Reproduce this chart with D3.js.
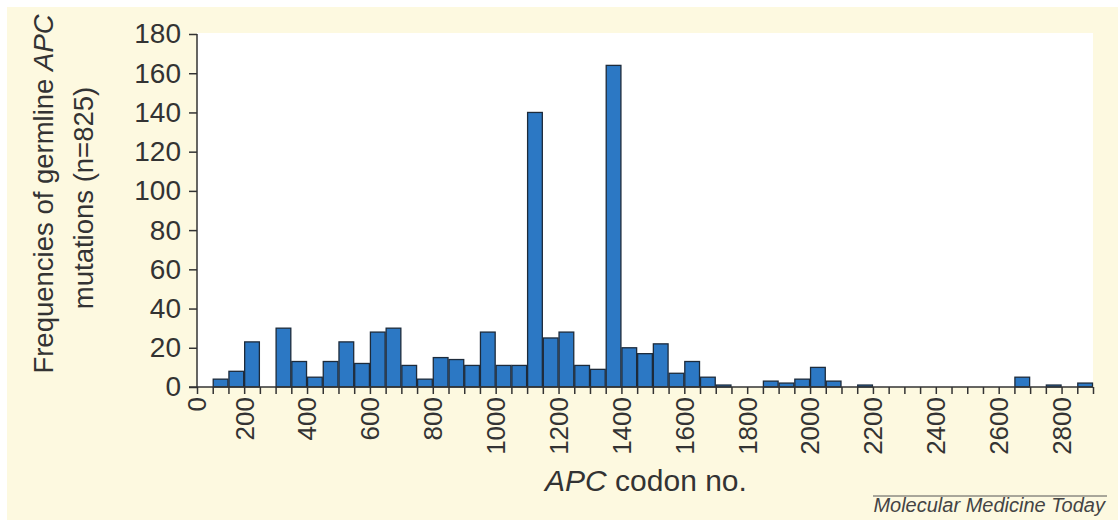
<!DOCTYPE html>
<html>
<head>
<meta charset="utf-8">
<script src="https://cdnjs.cloudflare.com/ajax/libs/d3/7.8.5/d3.min.js"></script>
<style>
  body { margin: 0; background: #ffffff; }
  svg { display: block; font-family: "Liberation Sans", Arial, Helvetica, sans-serif; }
</style>
</head>
<body>
<div id="chart"></div>
<script>
// germline APC mutations, counted in bins of 50 codons (bin start codon)
var binStart = [100, 150, 200, 300, 350, 400, 450, 500, 550, 600, 650, 700, 750, 800, 850,
                900, 950, 1000, 1050, 1100, 1150, 1200, 1250, 1300, 1350, 1400, 1450, 1500,
                1550, 1600, 1650, 1700, 1850, 1900, 1950, 2000, 2050, 2150, 2650, 2750, 2850];
var mutCount = [4, 8, 23, 30, 13, 5, 13, 23, 12, 28, 30, 11, 4, 15, 14,
                11, 28, 11, 11, 140, 25, 28, 11, 9, 164, 20, 17, 22,
                7, 13, 5, 1, 3, 2, 4, 10, 3, 1, 5, 1, 2];
var binWidth = 50;
var yTicks = [0, 20, 40, 60, 80, 100, 120, 140, 160, 180];
var xLabelTicks = [200, 400, 600, 800, 1000, 1200, 1400, 1600, 1800, 2000, 2200, 2400, 2600, 2800];
var xMinorTicks = d3.range(50, 2901, 50);

var width = 1118;
var height = 528;
var plotLeft = 197, plotRight = 1093, plotTop = 34, plotBottom = 387;

var svg = d3.select("#chart")
    .append("svg")
    .attr("width", width)
    .attr("height", height);

// cream panel
svg.append("rect")
    .attr("x", 7).attr("y", 7)
    .attr("width", width - 7).attr("height", 513)
    .attr("fill", "#fdf9e0");

// white plotting area
svg.append("rect")
    .attr("x", plotLeft).attr("y", plotTop - 1)
    .attr("width", plotRight - plotLeft).attr("height", plotBottom - plotTop + 1)
    .attr("fill", "#ffffff");

var x = d3.scaleLinear().domain([50, 2900]).range([plotLeft, plotRight]);
var y = d3.scaleLinear().domain([0, 180]).range([plotBottom, plotTop]);

var bars = binStart.map(function(d, i) {
    return {start: d, count: mutCount[i]};
});

svg.append("g")
    .attr("class", "bars")
    .selectAll("rect")
    .data(bars)
    .enter()
    .append("rect")
    .attr("x", function(d) { return x(d.start) + 0.5; })
    .attr("width", function(d) { return x(d.start + binWidth) - x(d.start) - 1; })
    .attr("y", function(d) { return y(d.count); })
    .attr("height", function(d) { return y(0) - y(d.count); })
    .attr("fill", "#2c78c4")
    .attr("stroke", "#1d2b3b")
    .attr("stroke-width", 1.3);

// y axis
var yAxis = svg.append("g")
    .attr("transform", "translate(" + plotLeft + ",0)")
    .call(d3.axisLeft(y).tickValues(yTicks).tickSize(8).tickPadding(8));
yAxis.select(".domain").attr("stroke", "#333").attr("stroke-width", 1.5)
    .attr("d", "M0," + plotTop + "V" + plotBottom);
yAxis.selectAll(".tick line").attr("stroke", "#333").attr("stroke-width", 1.5);
yAxis.selectAll(".tick text")
    .attr("fill", "#333")
    .style("font-size", "28px");

// x axis: small ticks every 50 codons
var xAxis = svg.append("g")
    .attr("transform", "translate(0," + plotBottom + ")")
    .call(d3.axisBottom(x).tickValues(xMinorTicks).tickSize(7).tickFormat(""));
xAxis.select(".domain").attr("stroke", "#333").attr("stroke-width", 1.5)
    .attr("d", "M" + (plotLeft - 8) + ",0H" + plotRight);
xAxis.selectAll(".tick line").attr("stroke", "#333").attr("stroke-width", 1.5);

// rotated labels every 200 codons, "0" sits at the origin
var xLabels = svg.append("g").attr("class", "xlabels");
xLabels.selectAll("text")
    .data([{v: 50, t: "0"}].concat(xLabelTicks.map(function(d) { return {v: d, t: String(d)}; })))
    .enter()
    .append("text")
    .attr("transform", function(d) {
        return "translate(" + x(d.v) + "," + (plotBottom + 10) + ") rotate(-90)";
    })
    .attr("dy", "0.36em")
    .attr("text-anchor", "end")
    .attr("fill", "#333")
    .style("font-size", "26px")
    .text(function(d) { return d.t; });

// x title
var xTitle = svg.append("text")
    .attr("x", 646)
    .attr("y", 491)
    .attr("text-anchor", "middle")
    .attr("fill", "#333")
    .style("font-size", "30px");
xTitle.append("tspan").style("font-style", "italic").text("APC");
xTitle.append("tspan").text(" codon no.");

// y title, two lines
var yTitle = svg.append("text")
    .attr("transform", "translate(53,194) rotate(-90)")
    .attr("text-anchor", "middle")
    .attr("fill", "#333")
    .style("font-size", "27.5px");
yTitle.append("tspan").text("Frequencies of germline ");
yTitle.append("tspan").style("font-style", "italic").text("APC");

svg.append("text")
    .attr("transform", "translate(93,198) rotate(-90)")
    .attr("text-anchor", "middle")
    .attr("fill", "#333")
    .style("font-size", "27.5px")
    .text("mutations (n=825)");

// journal credit
svg.append("line")
    .attr("x1", 873).attr("x2", 1107)
    .attr("y1", 496).attr("y2", 496)
    .attr("stroke", "#555").attr("stroke-width", 1);
svg.append("text")
    .attr("x", 1105)
    .attr("y", 512)
    .attr("text-anchor", "end")
    .attr("fill", "#444")
    .style("font-size", "20px")
    .style("font-style", "italic")
    .text("Molecular Medicine Today");
</script>
</body>
</html>
